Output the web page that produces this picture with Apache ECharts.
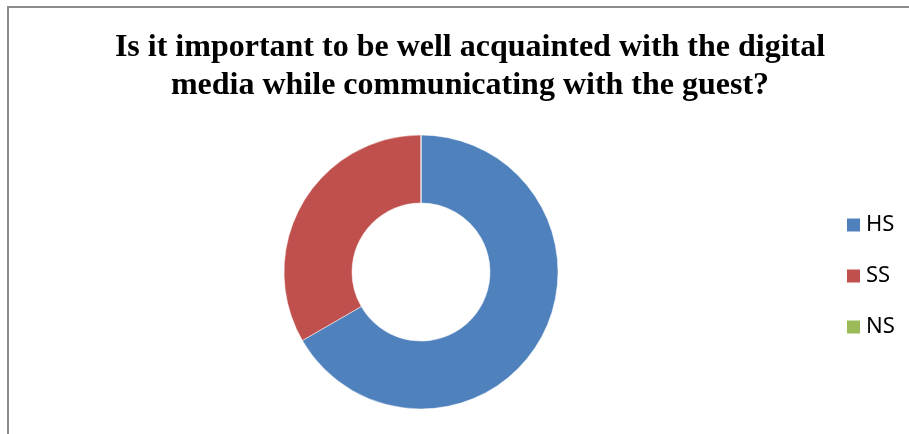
<!DOCTYPE html>
<html>
<head>
<meta charset="utf-8">
<script src="https://cdn.jsdelivr.net/npm/echarts@6/dist/echarts.min.js"></script>
<style>
  html, body { margin: 0; padding: 0; background: #fff; }
  #chart { width: 909px; height: 434px; }
  /* frame of the original chart area, only top and left edges are visible */
  #frame {
    position: absolute; left: 7px; top: 6px; width: 920px; height: 440px;
    border-left: 2px solid #8c8c8c; border-top: 2px solid #8c8c8c;
    pointer-events: none;
  }
</style>
</head>
<body>
<div id="chart"></div>
<div id="frame"></div>
<script>
// data
var categories = ['HS', 'SS', 'NS']
var values = [20, 10, 0]
var colors = ['#4F81BD', '#C0504D', '#9BBB59']

var myChart = echarts.init(document.getElementById('chart'))

var pieData = categories.map(function (c, i) {
  return { name: c, value: values[i], itemStyle: { color: colors[i] } }
})

myChart.setOption({
  animation: false,
  title: {
    text: 'Is it important to be well acquainted with the digital\nmedia while communicating with the guest?',
    left: 465,
    top: 24,
    textAlign: 'center',
    textStyle: {
      fontFamily: 'Liberation Serif',
      fontWeight: 'bold',
      fontSize: 32,
      lineHeight: 38,
      color: '#000',
    },
  },
  legend: {
    orient: 'vertical',
    left: 845,
    top: 214,
    padding: 0,
    icon: 'rect',
    itemWidth: 15,
    itemHeight: 15,
    itemGap: 29,
    data: categories,
    textStyle: {
      fontFamily: 'Noto Sans',
      fontSize: 22,
      lineHeight: 22,
      color: '#000',
    },
  },
  series: [
    {
      type: 'pie',
      center: [421, 272],
      radius: [69, 137],
      startAngle: 90,
      label: { show: false },
      labelLine: { show: false },
      itemStyle: { borderColor: '#fff', borderWidth: 0.5 },
      emphasis: { disabled: true },
      data: pieData,
    },
  ],
})
</script>
</body>
</html>
